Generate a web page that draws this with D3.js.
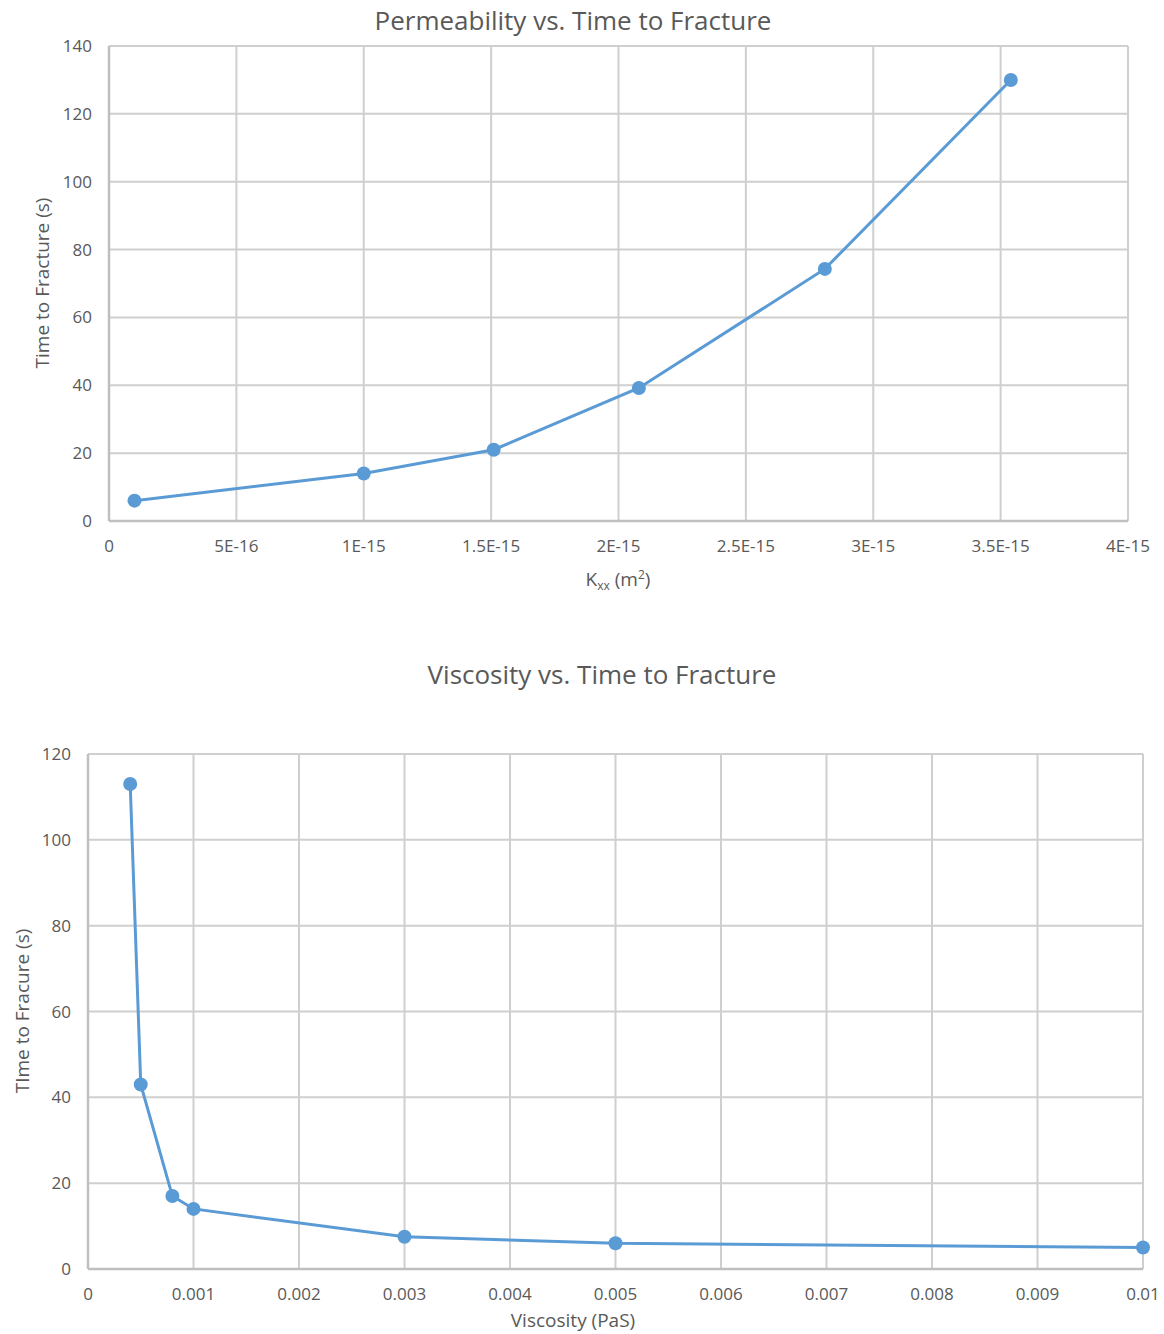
<!DOCTYPE html>
<html><head><meta charset="utf-8">
<script src="https://cdn.jsdelivr.net/npm/d3@7"></script>
<style>body{margin:0;background:#fff;} text{font-family:"Open Sans",sans-serif;fill:#595959;}</style>
</head><body>
<svg id="c" width="1164" height="1334"></svg>
<script>
// Chart 1: Permeability vs Time to Fracture
const permX = [1e-16, 1e-15, 1.51e-15, 2.08e-15, 2.81e-15, 3.54e-15];
const permY = [6, 14, 21, 39.2, 74.3, 130];
const permXTicks = [0, 5e-16, 1e-15, 1.5e-15, 2e-15, 2.5e-15, 3e-15, 3.5e-15, 4e-15];
const permXTickLabels = ["0","5E-16","1E-15","1.5E-15","2E-15","2.5E-15","3E-15","3.5E-15","4E-15"];
const permYTicks = [0,20,40,60,80,100,120,140];

// Chart 2: Viscosity vs Time to Fracture
const viscX = [0.0004, 0.0005, 0.0008, 0.001, 0.003, 0.005, 0.01];
const viscY = [113, 43, 17, 14, 7.5, 6, 5];
const viscXTicks = [0,0.001,0.002,0.003,0.004,0.005,0.006,0.007,0.008,0.009,0.01];
const viscXTickLabels = ["0","0.001","0.002","0.003","0.004","0.005","0.006","0.007","0.008","0.009","0.01"];
const viscYTicks = [0,20,40,60,80,100,120];

const svg = d3.select("#c");
const blue = "#5b9bd5";
const tickFont = 17;
const axisFont = 19;

function drawChart(cfg){
  const g = svg.append("g");
  const x = d3.scaleLinear().domain(cfg.xDomain).range([cfg.left, cfg.right]);
  const y = d3.scaleLinear().domain(cfg.yDomain).range([cfg.bottom, cfg.top]);
  // gridlines
  g.selectAll(".vg").data(cfg.xTicks).enter().append("line")
    .attr("x1", d=>x(d)).attr("x2", d=>x(d)).attr("y1", cfg.top).attr("y2", cfg.bottom)
    .attr("stroke", "#cfcfcf").attr("stroke-width", 2);
  g.selectAll(".hg").data(cfg.yTicks).enter().append("line")
    .attr("x1", cfg.left).attr("x2", cfg.right).attr("y1", d=>y(d)).attr("y2", d=>y(d))
    .attr("stroke", "#cfcfcf").attr("stroke-width", 2);
  // axes lines
  g.append("line").attr("x1", cfg.left).attr("x2", cfg.right).attr("y1", cfg.bottom).attr("y2", cfg.bottom)
    .attr("stroke", "#bfbfbf").attr("stroke-width", 2.5);
  g.append("line").attr("x1", cfg.left).attr("x2", cfg.left).attr("y1", cfg.top).attr("y2", cfg.bottom)
    .attr("stroke", "#bfbfbf").attr("stroke-width", 2.5);
  // tick labels
  g.selectAll(".xl").data(cfg.xTicks).enter().append("text")
    .attr("x", d=>x(d)).attr("y", cfg.bottom + 31).attr("text-anchor","middle")
    .attr("font-size", tickFont).text((d,i)=>cfg.xLabels[i]);
  g.selectAll(".yl").data(cfg.yTicks).enter().append("text")
    .attr("x", cfg.left - cfg.yLabelGap).attr("y", d=>y(d)+6).attr("text-anchor","end")
    .attr("font-size", tickFont).text(d=>d);
  // line
  const pts = cfg.xs.map((v,i)=>[v, cfg.ys[i]]);
  g.append("path").datum(pts)
    .attr("d", d3.line().x(d=>x(d[0])).y(d=>y(d[1])))
    .attr("fill","none").attr("stroke", blue).attr("stroke-width", 3);
  g.selectAll(".pt").data(pts).enter().append("circle")
    .attr("cx", d=>x(d[0])).attr("cy", d=>y(d[1])).attr("r", 7).attr("fill", blue);
  // title
  g.append("text").attr("x", cfg.titleX).attr("y", cfg.titleY).attr("text-anchor","middle")
    .attr("font-size", 26).text(cfg.title);
  return {g, x, y};
}

const c1 = drawChart({
  xDomain:[0,4e-15], yDomain:[0,140], left:109, right:1128, top:46, bottom:521,
  xTicks: permXTicks, xLabels: permXTickLabels, yTicks: permYTicks, yLabelGap: 17,
  xs: permX, ys: permY, title: "Permeability vs. Time to Fracture", titleX: 573, titleY: 30
});
// x label with subscript/superscript
const xl1 = c1.g.append("text").attr("x", 618).attr("y", 586).attr("text-anchor","middle").attr("font-size",axisFont);
xl1.append("tspan").text("K");
xl1.append("tspan").attr("font-size",12).attr("dy",4).text("xx");
xl1.append("tspan").attr("dy",-4).text(" (m");
xl1.append("tspan").attr("font-size",12).attr("dy",-7).text("2");
xl1.append("tspan").attr("dy",7).text(")");
c1.g.append("text").attr("transform","translate(49,283) rotate(-90)").attr("text-anchor","middle")
  .attr("font-size",axisFont).text("Time to Fracture (s)");

const c2 = drawChart({
  xDomain:[0,0.01], yDomain:[0,120], left:88, right:1143, top:754, bottom:1269,
  xTicks: viscXTicks, xLabels: viscXTickLabels, yTicks: viscYTicks, yLabelGap: 17,
  xs: viscX, ys: viscY, title: "Viscosity vs. Time to Fracture", titleX: 602, titleY: 684
});
c2.g.append("text").attr("x", 573).attr("y", 1327).attr("text-anchor","middle").attr("font-size",axisFont).text("Viscosity (PaS)");
c2.g.append("text").attr("transform","translate(29,1011) rotate(-90)").attr("text-anchor","middle")
  .attr("font-size",axisFont).text("TIme to Fracure (s)");
</script>
</body></html>
